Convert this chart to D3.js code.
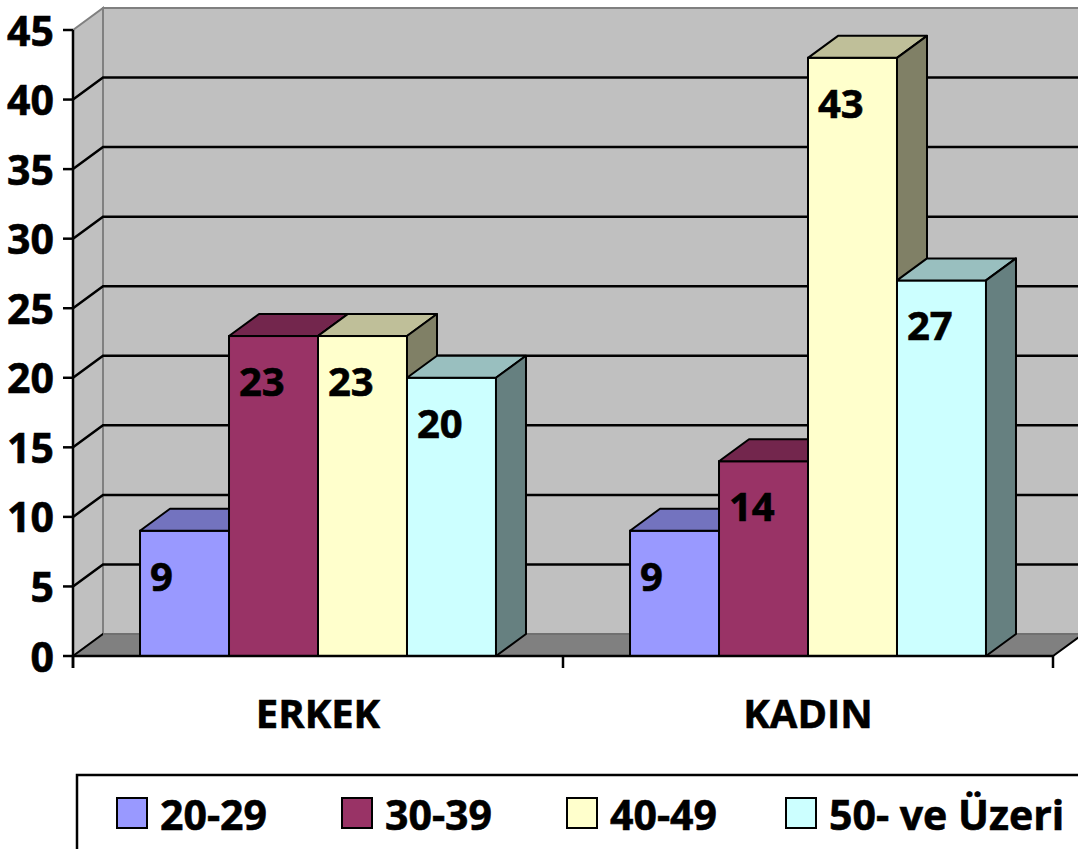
<!DOCTYPE html>
<html>
  <head>
    <script src="https://d3js.org/d3.v7.min.js"></script>
    <style>
      body { margin: 0; background: #fff; }
      text { font-family: "Open Sans", sans-serif; font-weight: 700; stroke: #000; stroke-width: 0.6px; }
    </style>
  </head>
  <body>
    <div id="chart"></div>

    <script>
      const categories = ["ERKEK", "KADIN"];
      const series = ["20-29", "30-39", "40-49", "50- ve Üzeri"];
      const values = {
        "20-29": [9, 9],
        "30-39": [23, 14],
        "40-49": [23, 43],
        "50- ve Üzeri": [20, 27]
      };
      const colors = ["#9999FF", "#993366", "#FFFFCC", "#CCFFFF"];
      const yTicks = [0, 5, 10, 15, 20, 25, 30, 35, 40, 45];

      const width = 1078;
      const height = 849;
      const dx = 30, dy = -22; // 3d depth offset

      const svg = d3.select("#chart")
        .append("svg")
        .attr("width", width)
        .attr("height", height);

      const y = d3.scaleLinear().domain([0, 45]).range([656, 30]);
      const x = d3.scaleBand().domain(categories).range([73, 1053]).padding(0);
      const xs = d3.scaleBand().domain(series).range([0, x.bandwidth()])
        .paddingInner(0).paddingOuter(0.753);

      const left = 73, right = 1053;
      const floorY = y(0);

      // side wall
      svg.append("polygon")
        .attr("points", [[left, y(45)], [left + dx, y(45) + dy], [left + dx, floorY + dy], [left, floorY]].join(" "))
        .attr("fill", "#C0C0C0").attr("stroke", "#808080").attr("stroke-width", 2);
      // back wall
      svg.append("rect")
        .attr("x", left + dx).attr("y", y(45) + dy)
        .attr("width", right - left + 20).attr("height", floorY - y(45))
        .attr("fill", "#C0C0C0").attr("stroke", "#808080").attr("stroke-width", 2);

      // gridlines
      yTicks.filter(t => t > 0 && t < 45).forEach(t => {
        svg.append("polyline")
          .attr("points", [[left, y(t)], [left + dx, y(t) + dy], [right + dx + 20, y(t) + dy]].join(" "))
          .attr("fill", "none").attr("stroke", "#000").attr("stroke-width", 2.5);
      });

      // floor
      svg.append("polygon")
        .attr("points", [[left, floorY], [left + dx, floorY + dy], [right + dx, floorY + dy], [right, floorY]].join(" "))
        .attr("fill", "#808080").attr("stroke", "#000").attr("stroke-width", 2);
      svg.append("line")
        .attr("x1", left + dx).attr("x2", right + dx).attr("y1", floorY + dy).attr("y2", floorY + dy)
        .attr("stroke", "#707070").attr("stroke-width", 2);

      // bars
      function shade(c, k) {
        const r = d3.rgb(c);
        return d3.rgb(r.r * k, r.g * k, r.b * k).formatHex();
      }
      const bars = [];
      categories.forEach((c, ci) => {
        series.forEach((s, si) => {
          bars.push({ cat: c, s: s, v: values[s][ci], color: colors[si] });
        });
      });
      const bw = xs.bandwidth();
      const g = svg.append("g");
      bars.forEach(d => {
        const x0 = x(d.cat) + xs(d.s);
        const x1 = x0 + bw;
        const yt = y(d.v);
        // front
        g.append("rect").attr("x", x0).attr("y", yt).attr("width", bw).attr("height", floorY - yt)
          .attr("fill", d.color).attr("stroke", "#000").attr("stroke-width", 2);
        // top
        g.append("polygon")
          .attr("points", [[x0, yt], [x0 + dx, yt + dy], [x1 + dx, yt + dy], [x1, yt]].join(" "))
          .attr("fill", shade(d.color, 0.75)).attr("stroke", "#000").attr("stroke-width", 2)
          .attr("stroke-linejoin", "round");
        // side
        g.append("polygon")
          .attr("points", [[x1, yt], [x1 + dx, yt + dy], [x1 + dx, floorY + dy], [x1, floorY]].join(" "))
          .attr("fill", shade(d.color, 0.5)).attr("stroke", "#000").attr("stroke-width", 2)
          .attr("stroke-linejoin", "round");
      });
      // value labels
      bars.forEach(d => {
        const x0 = x(d.cat) + xs(d.s);
        g.append("text")
          .attr("x", x0 + 10)
          .attr("y", y(d.v) + 60)
          .style("font-size", "40px")
          .text(d.v);
      });

      // y axis
      svg.append("line").attr("x1", left).attr("x2", left).attr("y1", y(45)).attr("y2", floorY + 12)
        .attr("stroke", "#000").attr("stroke-width", 2.5);
      yTicks.forEach(t => {
        svg.append("line").attr("x1", left - 10).attr("x2", left).attr("y1", y(t)).attr("y2", y(t))
          .attr("stroke", "#000").attr("stroke-width", 2.5);
        svg.append("text")
          .attr("x", 54).attr("y", y(t)).attr("dy", "0.38em")
          .style("text-anchor", "end").style("font-size", "41px")
          .text(t);
      });

      // x axis
      svg.append("line").attr("x1", left).attr("x2", right).attr("y1", floorY).attr("y2", floorY)
        .attr("stroke", "#000").attr("stroke-width", 2.5);
      [left, left + x.bandwidth(), right].forEach(t => {
        svg.append("line").attr("x1", t).attr("x2", t).attr("y1", floorY).attr("y2", floorY + 12)
          .attr("stroke", "#000").attr("stroke-width", 2.5);
      });
      categories.forEach(c => {
        svg.append("text")
          .attr("x", x(c) + x.bandwidth() / 2)
          .attr("y", 728)
          .style("text-anchor", "middle").style("font-size", "40px")
          .text(c);
      });

      // legend
      svg.append("rect").attr("x", 77).attr("y", 775).attr("width", 1100).attr("height", 200)
        .attr("fill", "#fff").attr("stroke", "#000").attr("stroke-width", 2.5);
      const legX = [117, 342, 567, 786];
      series.forEach((s, i) => {
        svg.append("rect").attr("x", legX[i]).attr("y", 798).attr("width", 30).attr("height", 30)
          .attr("fill", colors[i]).attr("stroke", "#000").attr("stroke-width", 2);
        svg.append("text").attr("x", legX[i] + 43).attr("y", 830)
          .style("font-size", "41px")
          .text(s);
      });
    </script>
  </body>
</html>
